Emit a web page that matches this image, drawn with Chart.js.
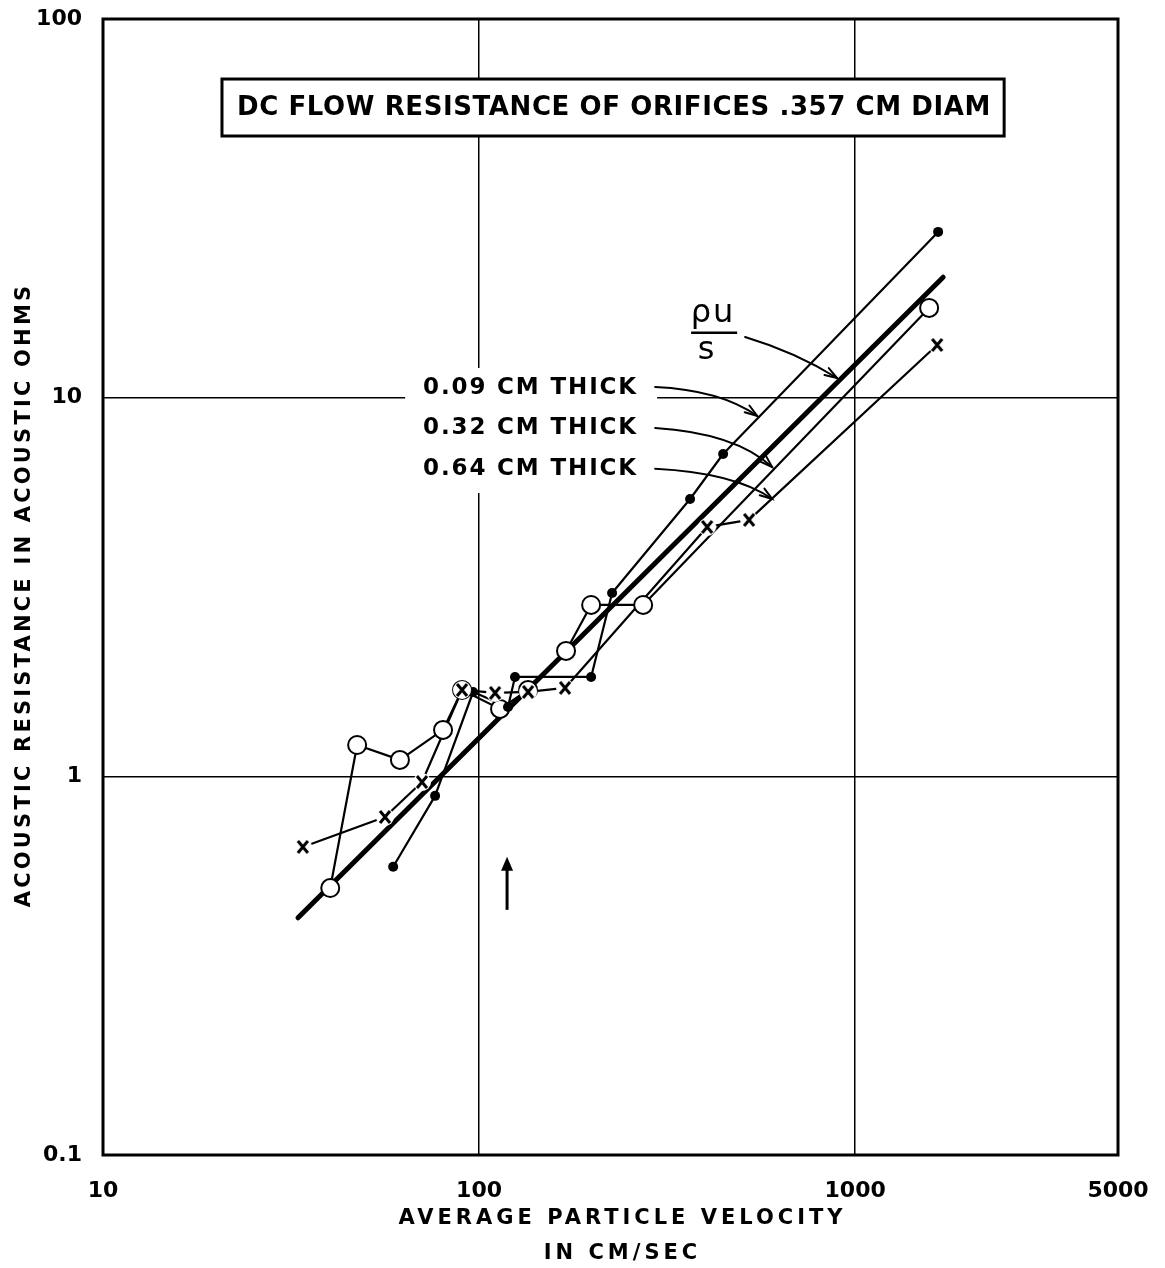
<!DOCTYPE html>
<html><head><meta charset="utf-8">
<script src="https://cdn.jsdelivr.net/npm/chart.js@4.4.1/dist/chart.umd.min.js"></script>
<style>html,body{margin:0;padding:0;background:#fff;}#wrap{width:1165px;height:1268px;}</style>
</head><body><div id="wrap"><canvas id="c" width="1165" height="1268"></canvas></div>
<script>
// ---- data ----
const xTickValues = [10, 100, 1000, 5000];
const yTickValues = [0.1, 1, 10, 100];

const thick009Velocity   = [59.1, 76.4, 96.4, 119.4, 124.6, 198.6, 225.8, 364.0, 445.6, 1662];
const thick009Resistance = [0.577, 0.888, 1.67, 1.525, 1.83, 1.83, 3.05, 5.40, 7.10, 27.4];

const thick032Velocity   = [40.2, 47.4, 61.6, 80.2, 90.1, 113.7, 135.0, 170.3, 198.6, 273.1, 1573];
const thick032Resistance = [0.507, 1.21, 1.105, 1.326, 1.691, 1.507, 1.691, 2.144, 2.835, 2.835, 17.26];

const thick064Velocity   = [34.0, 56.2, 70.5, 90.1, 110.3, 135.0, 169.3, 404.1, 522.5, 1652];
const thick064Resistance = [0.651, 0.781, 0.966, 1.691, 1.661, 1.671, 1.712, 4.556, 4.755, 13.78];

const rhoUVelocity   = [33.0, 1714];
const rhoUResistance = [0.423, 20.8];

const seriesLabels = ['0.09 CM THICK', '0.32 CM THICK', '0.64 CM THICK'];
const titleText = 'DC FLOW RESISTANCE OF ORIFICES .357 CM DIAM';
const xTitle = ['AVERAGE PARTICLE VELOCITY', 'IN CM/SEC'];
const yTitle = 'ACOUSTIC RESISTANCE IN ACOUSTIC OHMS';

const FONT = '"DejaVu Sans", sans-serif';

function pts(vs, rs) { return vs.map((v, i) => ({x: v, y: rs[i]})); }

function makeXMarker() {
  const c = document.createElement('canvas');
  c.width = 24; c.height = 24;
  const g = c.getContext('2d');
  g.fillStyle = '#fff';
  g.beginPath(); g.arc(12, 12, 9, 0, Math.PI * 2); g.fill();
  g.strokeStyle = '#000'; g.lineWidth = 3;
  g.beginPath(); g.moveTo(7, 6); g.lineTo(17, 18); g.moveTo(17, 6); g.lineTo(7, 18); g.stroke();
  return c;
}
const xMarker = makeXMarker();

// annotation anchors (data units)
const labelMask = {v0: 63.6, v1: 297.5, r0: 11.98, r1: 5.60};
const labelTextV = [70.97, 261.6];
const labelTextR = [10.67, 8.37, 6.52];
const arrowStart = [[293.9, 10.67], [293.9, 8.32], [293.9, 6.49]];
const arrowCtrl  = [[437.5, 10.48], [479.6, 8.07], [479.6, 6.33]];
const arrowTip   = [[549, 8.95], [601.6, 6.56], [601.6, 5.40]];
const rhoArrow = {start: [509.8, 14.46], ctrl: [692.3, 13.2], tip: [895.6, 11.27]};
const titleBox = {v0: 20.72, v1: 2490, r0: 69.42, r1: 49.09, tv0: 22.72, tv1: 2286, tr: 58.55};
const upArrow = {v: 118.7, r0: 0.444, r1: 0.613};

function fitText(ctx, text, x, y, width) {
  ctx.letterSpacing = '0px';
  const w0 = ctx.measureText(text).width;
  const n = [...text].length;
  const ls = (width - w0) / (n - 1);
  ctx.letterSpacing = ls.toFixed(2) + 'px';
  ctx.textAlign = 'left';
  ctx.textBaseline = 'middle';
  ctx.fillText(text, x, y);
  ctx.letterSpacing = '0px';
}

function curvedArrow(ctx, p0, pc, p1) {
  ctx.beginPath();
  ctx.moveTo(p0[0], p0[1]);
  ctx.quadraticCurveTo(pc[0], pc[1], p1[0], p1[1]);
  ctx.stroke();
  const a = Math.atan2(p1[1] - pc[1], p1[0] - pc[0]);
  const L = 13, w = 0.32;
  ctx.beginPath();
  ctx.moveTo(p1[0] - L * Math.cos(a - w), p1[1] - L * Math.sin(a - w));
  ctx.lineTo(p1[0], p1[1]);
  ctx.lineTo(p1[0] - L * Math.cos(a + w), p1[1] - L * Math.sin(a + w));
  ctx.stroke();
}

const titleStyle = {x: {spacing: '4px', dx: 12, dy: 0}, y: {spacing: '3.2px', dx: 0, dy: 8}};

const decor = {
  id: 'decor',
  beforeDraw(chart) {
    for (const id of ['x', 'y']) {
      const s = chart.scales[id];
      if (s && !s._lsWrapped) {
        const orig = s.drawTitle;
        const st = titleStyle[id];
        s.drawTitle = function () {
          const c = this.ctx; c.save(); c.letterSpacing = st.spacing; c.translate(st.dx, st.dy);
          orig.call(this); c.restore();
        };
        s._lsWrapped = true;
      }
    }
  },
  beforeDatasetsDraw(chart) {
    const ctx = chart.ctx, X = chart.scales.x, Y = chart.scales.y;
    ctx.save();
    ctx.fillStyle = '#fff';
    const x0 = X.getPixelForValue(labelMask.v0), x1 = X.getPixelForValue(labelMask.v1);
    const y0 = Y.getPixelForValue(labelMask.r0), y1 = Y.getPixelForValue(labelMask.r1);
    ctx.fillRect(x0, y0, x1 - x0, y1 - y0);
    ctx.restore();
  },
  afterDraw(chart) {
    const ctx = chart.ctx, X = chart.scales.x, Y = chart.scales.y, a = chart.chartArea;
    const P = (d) => [X.getPixelForValue(d[0]), Y.getPixelForValue(d[1])];
    ctx.save();
    // frame
    ctx.strokeStyle = '#000'; ctx.lineWidth = 3;
    ctx.strokeRect(a.left, a.top, a.right - a.left, a.bottom - a.top);

    // title box
    const bx0 = X.getPixelForValue(titleBox.v0), bx1 = X.getPixelForValue(titleBox.v1);
    const by0 = Y.getPixelForValue(titleBox.r0), by1 = Y.getPixelForValue(titleBox.r1);
    ctx.fillStyle = '#fff';
    ctx.fillRect(bx0, by0, bx1 - bx0, by1 - by0);
    ctx.lineWidth = 3;
    ctx.strokeRect(bx0, by0, bx1 - bx0, by1 - by0);
    ctx.fillStyle = '#000';
    ctx.font = 'bold 26px ' + FONT;
    const tx0 = X.getPixelForValue(titleBox.tv0), tx1 = X.getPixelForValue(titleBox.tv1);
    fitText(ctx, titleText, tx0, Y.getPixelForValue(titleBox.tr) + 1, tx1 - tx0);

    // series labels
    ctx.font = 'bold 23px ' + FONT;
    const lx0 = X.getPixelForValue(labelTextV[0]), lx1 = X.getPixelForValue(labelTextV[1]);
    seriesLabels.forEach((t, i) => fitText(ctx, t, lx0, Y.getPixelForValue(labelTextR[i]) + 1, lx1 - lx0));

    // arrows
    ctx.lineWidth = 2; ctx.strokeStyle = '#000'; ctx.lineCap = 'round';
    for (let i = 0; i < 3; i++) curvedArrow(ctx, P(arrowStart[i]), P(arrowCtrl[i]), P(arrowTip[i]));
    curvedArrow(ctx, P(rhoArrow.start), P(rhoArrow.ctrl), P(rhoArrow.tip));

    // rho u / s label
    ctx.font = '32px ' + FONT;
    ctx.textAlign = 'center'; ctx.textBaseline = 'middle'; ctx.letterSpacing = '2px';
    const pu = P([419.1, 16.63]);
    ctx.fillText('\u03C1u', pu[0], pu[1]);
    ctx.letterSpacing = '0px';
    const b0 = P([366.3, 14.83]), b1 = P([485.6, 14.83]);
    ctx.lineWidth = 2.5; ctx.lineCap = 'butt';
    ctx.beginPath(); ctx.moveTo(b0[0], b0[1]); ctx.lineTo(b1[0], b1[1]); ctx.stroke();
    const ps = P([401.6, 13.28]);
    ctx.fillText('s', ps[0], ps[1]);

    // small upward arrow
    const u0 = P([upArrow.v, upArrow.r0]), u1 = P([upArrow.v, upArrow.r1]);
    ctx.lineWidth = 3;
    ctx.beginPath(); ctx.moveTo(u0[0], u0[1]); ctx.lineTo(u1[0], u1[1] + 8); ctx.stroke();
    ctx.beginPath(); ctx.moveTo(u1[0], u1[1]); ctx.lineTo(u1[0] - 6, u1[1] + 14); ctx.lineTo(u1[0] + 6, u1[1] + 14); ctx.closePath(); ctx.fill();
    ctx.restore();
  }
};

const lineDs = (label, vs, rs, w, order) => ({
  label, data: pts(vs, rs), showLine: true, borderColor: '#000', borderWidth: w,
  pointRadius: 0, pointHoverRadius: 0, tension: 0, order, borderCapStyle: 'round', borderJoinStyle: 'round'
});

new Chart(document.getElementById('c'), {
  type: 'scatter',
  data: {
    datasets: [
      {label: '0.64 CM THICK points', data: pts(thick064Velocity, thick064Resistance), showLine: false,
       pointStyle: xMarker, pointRadius: 12, order: 0},
      {label: '0.09 CM THICK points', data: pts(thick009Velocity, thick009Resistance), showLine: false,
       pointStyle: 'circle', pointRadius: 5, backgroundColor: '#000', borderColor: '#000', borderWidth: 0, order: 1},
      {label: '0.32 CM THICK points', data: pts(thick032Velocity, thick032Resistance), showLine: false,
       pointStyle: 'circle', pointRadius: 9, backgroundColor: '#fff', borderColor: '#000', borderWidth: 2, order: 2},
      lineDs('0.64 CM THICK', thick064Velocity, thick064Resistance, 2.2, 3),
      lineDs('0.09 CM THICK', thick009Velocity, thick009Resistance, 2.2, 4),
      lineDs('0.32 CM THICK', thick032Velocity, thick032Resistance, 2.2, 5),
      lineDs('\u03C1u/s', rhoUVelocity, rhoUResistance, 5, 6)
    ]
  },
  options: {
    responsive: false, animation: false, events: [],
    layout: {padding: {left: 0, top: 19, right: 47, bottom: 0}},
    plugins: {legend: {display: false}, tooltip: {enabled: false}, title: {display: false}},
    scales: {
      x: {
        type: 'logarithmic', min: 10, max: 5000, position: 'bottom',
        afterFit: s => { s.height = 113; s.paddingLeft = 0; s.paddingRight = 0; },
        afterBuildTicks: s => { s.ticks = xTickValues.map(v => ({value: v})); },
        grid: {color: '#000', lineWidth: 1.5, drawTicks: false},
        border: {display: false},
        ticks: {color: '#000', font: {family: FONT, size: 22, weight: 'bold'}, padding: 23, maxRotation: 0, autoSkip: false,
                callback: v => String(v)},
        title: {display: true, text: xTitle, color: '#000', font: {family: FONT, size: 21, weight: 'bold', lineHeight: 1.667},
                padding: {top: 0, bottom: -3}}
      },
      y: {
        type: 'logarithmic', min: 0.1, max: 100, position: 'left',
        afterFit: s => { s.width = 103; s.paddingTop = 0; s.paddingBottom = 0; },
        afterBuildTicks: s => { s.ticks = yTickValues.map(v => ({value: v})); },
        grid: {color: '#000', lineWidth: 1.5, drawTicks: false},
        border: {display: false},
        ticks: {color: '#000', font: {family: FONT, size: 22, weight: 'bold'}, padding: 21, autoSkip: false,
                callback: v => String(v)},
        title: {display: true, text: yTitle, color: '#000', font: {family: FONT, size: 21, weight: 'bold', lineHeight: 1.2},
                padding: {top: 12, bottom: 0}}
      }
    }
  },
  plugins: [decor]
});
</script>
</body></html>
